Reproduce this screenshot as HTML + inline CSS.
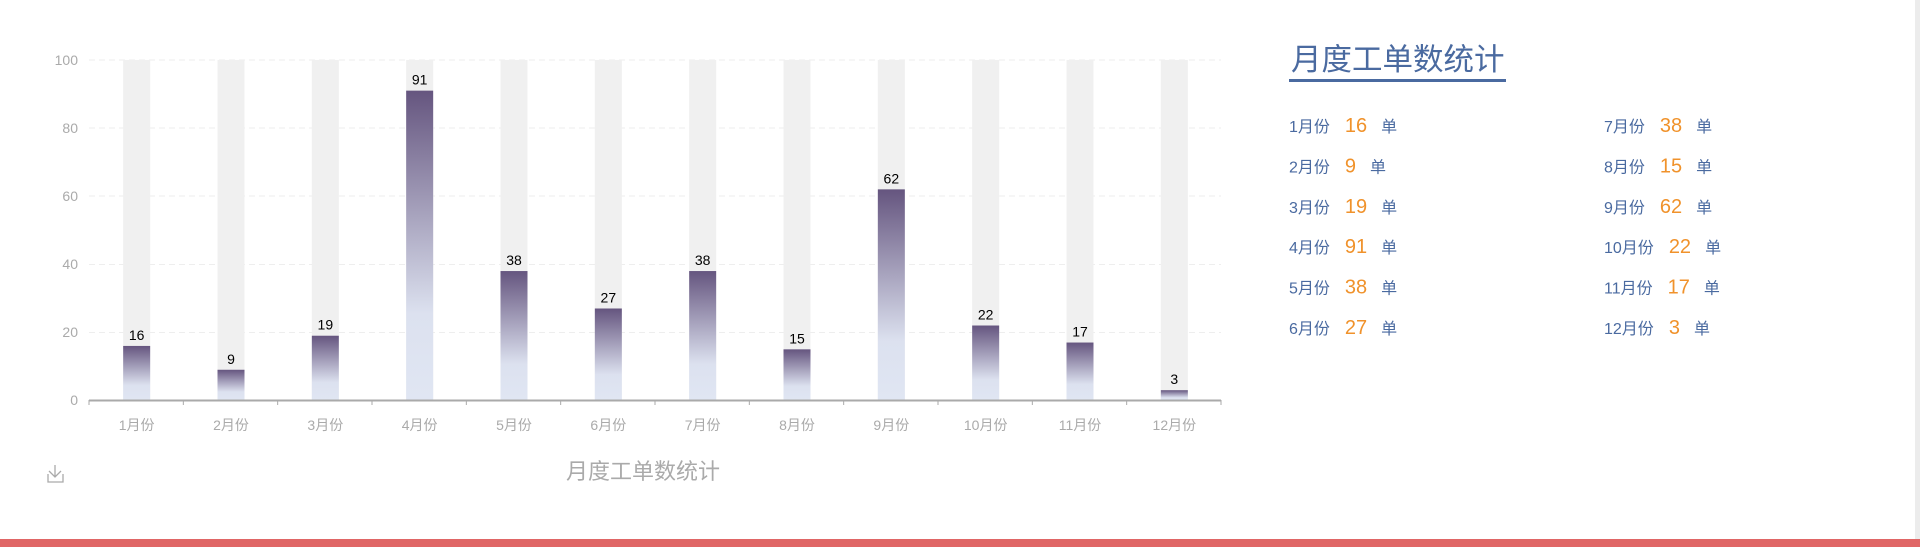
<!DOCTYPE html>
<html><head><meta charset="utf-8"><style>
html,body{margin:0;padding:0;background:#fff;width:1920px;height:547px;overflow:hidden}
svg{display:block}
text{font-family:"Liberation Sans","Noto Sans CJK SC",sans-serif}
</style></head><body>
<svg width="1920" height="547" viewBox="0 0 1920 547" xmlns="http://www.w3.org/2000/svg">
<defs>
<linearGradient id="g" x1="0" y1="0" x2="0" y2="1">
<stop offset="0" stop-color="#65557f"/>
<stop offset="0.72" stop-color="#dce1ef"/>
<stop offset="1" stop-color="#e0e6f3"/>
</linearGradient>
</defs>
<g stroke="#eee" stroke-dasharray="6,4" stroke-width="1">
<line x1="89" x2="1221" y1="60" y2="60"/>
<line x1="89" x2="1221" y1="128" y2="128"/>
<line x1="89" x2="1221" y1="196" y2="196"/>
<line x1="89" x2="1221" y1="264.5" y2="264.5"/>
<line x1="89" x2="1221" y1="332.5" y2="332.5"/>
</g>
<g font-size="14" fill="#aaa" text-anchor="end">
<text x="78" y="65">100</text><text x="78" y="133">80</text><text x="78" y="201">60</text>
<text x="78" y="269">40</text><text x="78" y="337">20</text><text x="78" y="405">0</text>
</g>
<g id="bars"></g>
<line x1="89" x2="1221" y1="400.5" y2="400.5" stroke="#aaa" stroke-width="2"/>
<g id="ticks" stroke="#aaa"></g>
<g id="xl" font-size="14" fill="#aaa" text-anchor="middle"></g>
<text x="643" y="479" font-size="22" fill="#aaa" text-anchor="middle">月度工单数统计</text>
<g stroke="#aaa" stroke-width="1.3" fill="none">
<path d="M55 465 v12 M49 471 l6 6 6-6 M48 474 v8 h15 v-8"/>
</g>
<rect x="0" y="539" width="1920" height="8" fill="#e06666"/>
<rect x="1915" y="0" width="5" height="539" fill="#ececec"/>
<text x="1291" y="70" font-size="30.5" fill="#4a6aa0">月度工单数统计</text>
<rect x="1289" y="79" width="217" height="3" fill="#4a6aa0"/>
<g id="leg" font-size="16"></g>
</svg>
<script>
var v=[16,9,19,91,38,27,38,15,62,22,17,3];
var ns="http://www.w3.org/2000/svg";
function el(p,t,a,txt){var e=document.createElementNS(ns,t);for(var k in a)e.setAttribute(k,a[k]);if(txt!=null)e.textContent=txt;document.getElementById(p).appendChild(e);}
var L=89,cw=(1221-L)/12,k=3.404;
for(var i=0;i<12;i++){
 var c=L+cw*(i+0.5)+0.5;
 el("bars","rect",{x:c-13.5,y:60,width:27,height:340.4,fill:"#f0f0f0"});
 var h=v[i]*k;
 el("bars","rect",{x:c-13.5,y:400.4-h,width:27,height:h,fill:"url(#g)"});
 el("bars","text",{x:c,y:400.4-h-6,"font-size":14,fill:"#000","text-anchor":"middle"},v[i]);
 el("ticks","line",{x1:L+cw*i,x2:L+cw*i,y1:400,y2:405});
 el("xl","text",{x:c,y:430},(i+1)+"月份");
}
el("ticks","line",{x1:1221,x2:1221,y1:400,y2:405});
for(var i=0;i<12;i++){
 var col=i<6?0:1,r=i%6,x=col?1604:1289,y=132+r*40.4;
 var m=(i+1)+"月份";
 var t=document.createElementNS(ns,"text");t.setAttribute("x",x);t.setAttribute("y",y);
 t.innerHTML='<tspan fill="#4a6aa0">'+m+'</tspan><tspan fill="#f0922b" font-size="20" dx="15">'+v[i]+'</tspan><tspan fill="#4a6aa0" dx="14">单</tspan>';
 document.getElementById("leg").appendChild(t);
}
</script>
</body></html>
